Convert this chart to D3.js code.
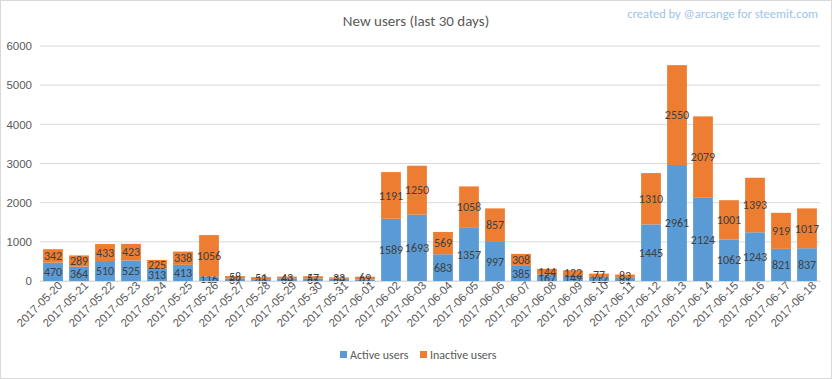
<!DOCTYPE html>
<html>
<head>
<meta charset="utf-8">
<script src="https://cdn.jsdelivr.net/npm/d3@7"></script>
<style>
  body { margin: 0; background: #fff; }
  svg { font-family: Carlito, Calibri, "Open Sans", sans-serif; }
</style>
</head>
<body>
<svg id="chart" width="832" height="379"></svg>
<script>
// data
const dates = ["2017-05-20","2017-05-21","2017-05-22","2017-05-23","2017-05-24","2017-05-25",
  "2017-05-26","2017-05-27","2017-05-28","2017-05-29","2017-05-30","2017-05-31","2017-06-01",
  "2017-06-02","2017-06-03","2017-06-04","2017-06-05","2017-06-06","2017-06-07","2017-06-08",
  "2017-06-09","2017-06-10","2017-06-11","2017-06-12","2017-06-13","2017-06-14","2017-06-15",
  "2017-06-16","2017-06-17","2017-06-18"];
const active = [470,364,510,525,313,413,116,67,48,69,65,59,41,1589,1693,683,1357,997,385,167,
  149,112,81,1445,2961,2124,1062,1243,821,837];
const inactive = [342,289,433,423,225,338,1056,58,51,43,57,33,69,1191,1250,569,1058,857,308,144,
  122,77,83,1310,2550,2079,1001,1393,919,1017];
const yTicks = [0,1000,2000,3000,4000,5000,6000];
const seriesNames = ["Active users","Inactive users"];
const colors = ["#5b9bd5","#ed7d31"];

let svg = d3.select("#chart");
let width = 832, height = 379;
let margin = {left: 40, right: 12, top: 46, bottom: 98};

svg.append("rect")
  .attr("x", 0.5).attr("y", 0.5)
  .attr("width", width - 1).attr("height", height - 1)
  .attr("fill", "#fff").attr("stroke", "#d9d9d9");

let xScale = d3.scaleBand()
  .domain(dates)
  .range([margin.left, width - margin.right])
  .paddingInner(0.24).paddingOuter(0.12);

let yScale = d3.scaleLinear()
  .domain([0, 6000])
  .range([height - margin.bottom, margin.top]);

// gridlines
svg.append("g")
  .selectAll("line")
  .data(yTicks)
  .join("line")
  .attr("x1", margin.left).attr("x2", width - margin.right)
  .attr("y1", d => yScale(d)).attr("y2", d => yScale(d))
  .attr("stroke", "#d9d9d9");

// y axis labels
let yAxis = d3.axisLeft(yScale).tickValues(yTicks).tickFormat(d3.format("d")).tickSize(0).tickPadding(6);
let yg = svg.append("g").attr("transform", "translate(" + (margin.left - 2) + ",0)").call(yAxis);
yg.select(".domain").remove();
yg.selectAll("text").attr("fill", "#595959").style("font-size", "11.5px");

// stacked bars
let rows = dates.map((d, i) => ({date: d, active: active[i], inactive: inactive[i]}));
let stack = d3.stack().keys(["active", "inactive"])(rows);

let layers = svg.append("g").selectAll("g")
  .data(stack)
  .join("g")
  .attr("fill", (d, i) => colors[i]);

layers.selectAll("rect")
  .data(d => d)
  .join("rect")
  .attr("x", d => xScale(d.data.date))
  .attr("width", xScale.bandwidth())
  .attr("y", d => yScale(d[1]))
  .attr("height", d => yScale(d[0]) - yScale(d[1]));

// value labels (they overlap on the tiny bars, as in the original)
layers.selectAll("text")
  .data(d => d)
  .join("text")
  .attr("x", d => xScale(d.data.date) + xScale.bandwidth() / 2)
  .attr("y", d => (yScale(d[0]) + yScale(d[1])) / 2)
  .attr("dy", "0.35em")
  .attr("text-anchor", "middle")
  .attr("fill", "#404040")
  .style("font-size", "12px")
  .text(d => d[1] - d[0]);

// x axis
let xAxis = d3.axisBottom(xScale).tickSize(0).tickPadding(4);
let xg = svg.append("g").attr("transform", "translate(0," + yScale(0) + ")").call(xAxis);
xg.select(".domain").attr("stroke", "#d9d9d9");
xg.selectAll("text")
  .attr("fill", "#595959")
  .style("font-size", "11.5px")
  .style("text-anchor", "end")
  .attr("dx", "0.3em")
  .attr("dy", "0.6em")
  .attr("transform", "rotate(-45)");

// title and credit
svg.append("text")
  .attr("x", 416).attr("y", 26)
  .attr("text-anchor", "middle")
  .attr("fill", "#595959")
  .style("font-size", "15px")
  .text("New users (last 30 days)");

svg.append("text")
  .attr("x", 818).attr("y", 18)
  .attr("text-anchor", "end")
  .attr("fill", "#9dc3e6")
  .style("font-size", "12.5px")
  .text("created by @arcange for steemit.com");

// legend
let legend = svg.append("g").attr("transform", "translate(340,357)");
let items = legend.selectAll("g")
  .data(seriesNames)
  .join("g")
  .attr("transform", (d, i) => "translate(" + (i * 80) + ",0)");
items.append("rect")
  .attr("x", 0).attr("y", -6)
  .attr("width", 7).attr("height", 7)
  .attr("fill", (d, i) => colors[i]);
items.append("text")
  .attr("x", 10).attr("y", 0)
  .attr("dy", "0.15em")
  .attr("fill", "#595959")
  .style("font-size", "12px")
  .text(d => d);
</script>
</body>
</html>
